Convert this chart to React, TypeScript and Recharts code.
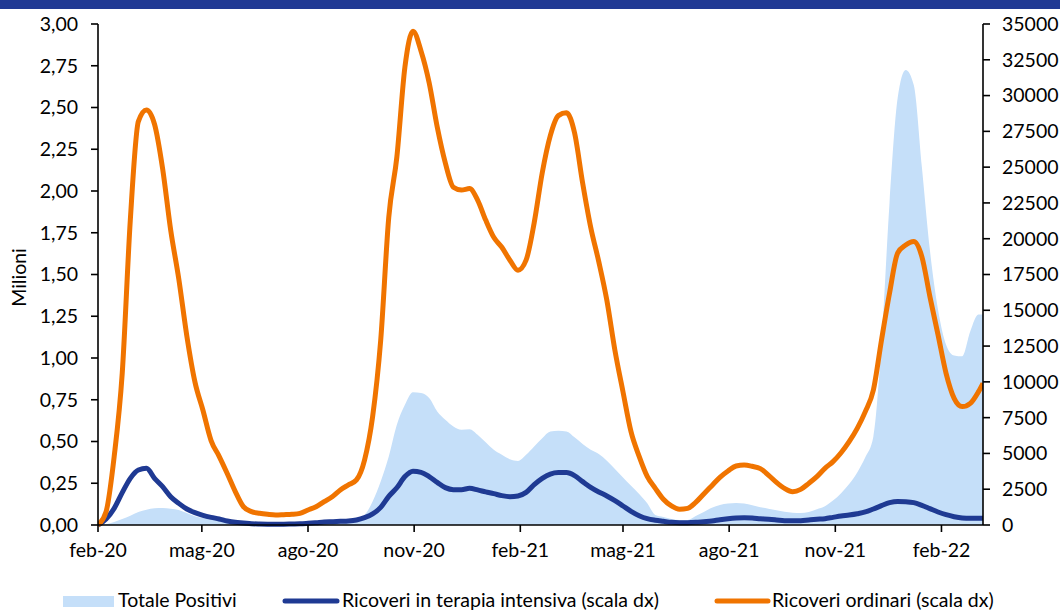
import { Area, ComposedChart, Line, XAxis, YAxis } from "recharts";

// days since the first tick (feb-20), weekly readings
const days = [
  0, 7, 14, 21, 28, 35, 42, 49, 56, 63,
  70, 77, 84, 91, 98, 105, 112, 119, 126, 133,
  140, 147, 154, 161, 168, 175, 182, 189, 196, 203,
  210, 217, 224, 231, 238, 245, 252, 259, 266, 273,
  280, 287, 294, 301, 308, 315, 322, 329, 336, 343,
  350, 357, 364, 371, 378, 385, 392, 399, 406, 413,
  420, 427, 434, 441, 448, 455, 462, 469, 476, 483,
  490, 497, 504, 511, 518, 525, 532, 539, 546, 553,
  560, 567, 574, 581, 588, 595, 602, 609, 616, 623,
  630, 637, 644, 651, 658, 665, 672, 679, 686, 693,
  700, 707, 714, 721, 728, 735, 742, 749, 756, 763,
  767,
];

// Totale Positivi, milioni (scala sx)
const totalePositivi = [
  0, 0.004, 0.018, 0.036, 0.056, 0.078, 0.092, 0.1, 0.102, 0.098,
  0.09, 0.072, 0.052, 0.042, 0.032, 0.026, 0.02, 0.016, 0.014, 0.013,
  0.013, 0.012, 0.013, 0.013, 0.014, 0.015, 0.016, 0.018, 0.02, 0.024,
  0.028, 0.032, 0.036, 0.06, 0.14, 0.26, 0.41, 0.6, 0.72, 0.795,
  0.79, 0.76, 0.68, 0.63, 0.59, 0.57, 0.573, 0.54, 0.495, 0.45,
  0.42, 0.393, 0.383, 0.42, 0.47, 0.52, 0.56, 0.565, 0.56, 0.525,
  0.485, 0.45, 0.425, 0.385, 0.335, 0.285, 0.235, 0.185, 0.13, 0.06,
  0.048, 0.036, 0.03, 0.03, 0.054, 0.078, 0.104, 0.12, 0.128, 0.132,
  0.128, 0.118, 0.106, 0.098, 0.088, 0.08, 0.074, 0.072, 0.078, 0.094,
  0.112, 0.146, 0.19, 0.245, 0.315, 0.405, 0.53, 1.09, 1.93, 2.555,
  2.725, 2.635, 2.145, 1.645, 1.29, 1.08, 1.015, 1.01, 1.16, 1.26,
  1.26,
];

// Ricoveri in terapia intensiva (scala dx)
const terapiaIntensiva = [
  0, 420, 1160, 2260, 3260, 3840, 3960, 3260, 2680, 1980,
  1510, 1120, 860, 675, 535, 420, 280, 186, 140, 90,
  70, 60, 60, 60, 70, 80, 116, 160, 210, 233,
  256, 280, 350, 510, 770, 1230, 2000, 2600, 3380, 3750,
  3680, 3380, 2980, 2610, 2470, 2470, 2560, 2450, 2310, 2190,
  2050, 1980, 2030, 2280, 2820, 3260, 3560, 3660, 3660, 3450,
  3030, 2630, 2310, 2030, 1700, 1330, 955, 650, 440, 330,
  256, 186, 163, 163, 186, 233, 280, 370, 440, 490,
  510, 490, 440, 400, 350, 300, 300, 300, 350, 400,
  440, 535, 630, 700, 790, 910, 1120, 1350, 1560, 1650,
  1630, 1560, 1370, 1140, 910, 720, 580, 490, 465, 465,
  465,
];

// Ricoveri ordinari (scala dx)
const ricoveriOrdinari = [
  0, 930, 4770, 10600, 21300, 28200, 29000, 28000, 24900, 20600,
  17200, 13200, 10000, 8000, 5900, 4800, 3600, 2330, 1280, 930,
  815, 745, 700, 720, 745, 815, 1050, 1280, 1630, 1980,
  2450, 2800, 3150, 4540, 7570, 12900, 21500, 25700, 32000, 34500,
  33100, 30900, 27800, 25300, 23600, 23400, 23500, 22700, 21300, 20100,
  19400, 18500, 17800, 18500, 21100, 24600, 27200, 28600, 28800, 27400,
  23900, 20800, 18400, 15700, 12200, 9300, 6500, 4800, 3400, 2560,
  1800, 1330, 1100, 1160, 1580, 2170, 2750, 3330, 3770, 4120,
  4190, 4100, 3940, 3490, 2980, 2560, 2330, 2490, 2910, 3380,
  3960, 4430, 5050, 5820, 6750, 7920, 9430, 12900, 16200, 19000,
  19560, 19800, 18750, 15950, 13300, 10600, 8850, 8270, 8500, 9300,
  9900,
];

const tickDays = [0, 90, 182, 274, 366, 455, 547, 639, 731];
const tickLabels = ["feb-20", "mag-20", "ago-20", "nov-20", "feb-21", "mag-21", "ago-21", "nov-21", "feb-22"];
const leftTicks = [0, 0.25, 0.5, 0.75, 1, 1.25, 1.5, 1.75, 2, 2.25, 2.5, 2.75, 3];
const rightTicks = [0, 2500, 5000, 7500, 10000, 12500, 15000, 17500, 20000, 22500, 25000, 27500, 30000, 32500, 35000];

const data = days.map((d, i) => ({
  day: d,
  tot: totalePositivi[i],
  ti: terapiaIntensiva[i],
  ord: ricoveriOrdinari[i],
}));

const FONT = "Lato, 'Noto Sans', sans-serif";
const FS = 19.5;
const AREA = "#c5dff9";
const BLUE = "#1f3a93";
const ORANGE = "#f07400";
const tickStyle = { fill: "#000", fontSize: FS, fontFamily: FONT };

export default function App() {
  return (
    <div style={{ position: "absolute", left: 0, top: 0, width: 1060, height: 610, background: "#fff", fontFamily: FONT }}>
      <div style={{ position: "absolute", left: 0, top: 0, width: 1060, height: 9, background: "#213a94" }} />
      <ComposedChart width={1060} height={610} data={data} margin={{ top: 24, right: 0, bottom: 0, left: 0 }}>
        <XAxis
          dataKey="day"
          type="number"
          domain={[0, 767]}
          ticks={tickDays}
          interval={0}
          tickFormatter={(d: number) => tickLabels[tickDays.indexOf(d)]}
          height={85}
          tickSize={7}
          tickMargin={11}
          tick={tickStyle}
          axisLine={{ stroke: "#000", strokeWidth: 1.6 }}
          tickLine={{ stroke: "#000", strokeWidth: 1.6 }}
          allowDataOverflow
        />
        <YAxis
          yAxisId="left"
          domain={[0, 3]}
          ticks={leftTicks}
          interval={0}
          width={98}
          tickSize={7}
          tickMargin={13}
          tick={tickStyle}
          tickFormatter={(v: number) => v.toFixed(2).replace(".", ",")}
          axisLine={{ stroke: "#000", strokeWidth: 1.6 }}
          tickLine={{ stroke: "#000", strokeWidth: 1.6 }}
          label={({ viewBox }: any) => {
            const cy = viewBox.y + viewBox.height / 2 + 3;
            return (
              <text x={18} y={cy} transform={`rotate(-90 18 ${cy})`} textAnchor="middle" dominantBaseline="central" fontSize={FS} fontFamily={FONT} fill="#000">
                Milioni
              </text>
            );
          }}
        />
        <YAxis
          yAxisId="right"
          orientation="right"
          domain={[0, 35000]}
          ticks={rightTicks}
          interval={0}
          width={77}
          tickSize={7}
          tickMargin={12}
          tick={tickStyle}
          axisLine={{ stroke: "#000", strokeWidth: 1.6 }}
          tickLine={{ stroke: "#000", strokeWidth: 1.6 }}
        />
        <Area
          yAxisId="left"
          dataKey="tot"
          type="monotone"
          fill={AREA}
          fillOpacity={1}
          stroke="none"
          isAnimationActive={false}
        />
        <Line
          yAxisId="right"
          dataKey="ti"
          type="monotone"
          stroke={BLUE}
          strokeWidth={5}
          dot={false}
          strokeLinejoin="round"
          isAnimationActive={false}
        />
        <Line
          yAxisId="right"
          dataKey="ord"
          type="monotone"
          stroke={ORANGE}
          strokeWidth={5}
          dot={false}
          strokeLinejoin="round"
          isAnimationActive={false}
        />
      </ComposedChart>
      <svg width={1060} height={610} style={{ position: "absolute", left: 0, top: 0, pointerEvents: "none" }}>
        <rect x={63} y={596} width={51} height={11} fill={AREA} />
        <text x={118} y={607} fontSize={FS} fontFamily={FONT} fill="#000">Totale Positivi</text>
        <line x1={285} y1={601} x2={337} y2={601} stroke={BLUE} strokeWidth={5} strokeLinecap="round" />
        <text x={342} y={607} fontSize={FS} fontFamily={FONT} fill="#000">Ricoveri in terapia intensiva (scala dx)</text>
        <line x1={717} y1={601} x2={768} y2={601} stroke={ORANGE} strokeWidth={5} strokeLinecap="round" />
        <text x={772} y={607} fontSize={FS} fontFamily={FONT} fill="#000">Ricoveri ordinari (scala dx)</text>
      </svg>
    </div>
  );
}
